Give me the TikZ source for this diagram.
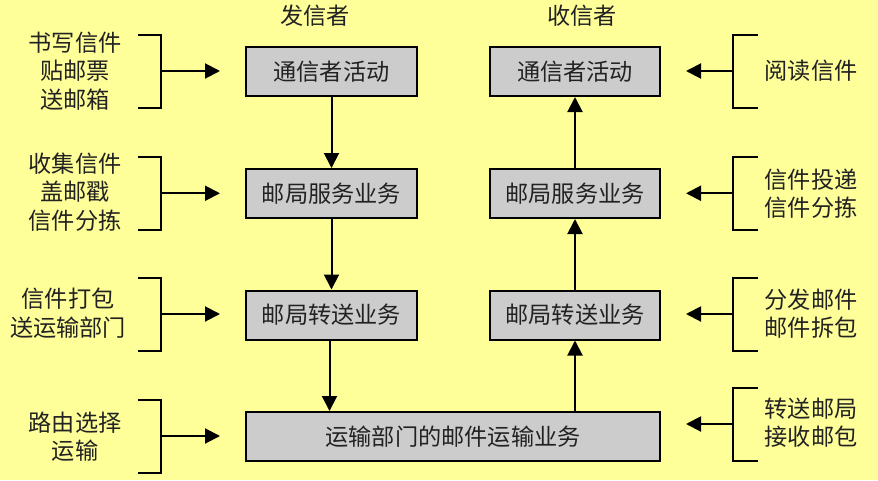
\documentclass[tikz,border=0pt]{standalone}
\usepackage{fontspec}
\setmainfont{Noto Sans CJK SC}
\usetikzlibrary{arrows.meta}
\definecolor{bgyellow}{HTML}{FFFF99}
\definecolor{boxgray}{HTML}{CCCCCC}
\definecolor{txt}{HTML}{222222}
\begin{document}
\begin{tikzpicture}[x=1pt,y=-1pt,
  every node/.style={font=\fontsize{23.2}{28.5}\selectfont, text=txt},
  procbox/.style={draw=black, fill=boxgray, line width=2pt, minimum height=49pt, inner sep=0pt},
  lbl/.style={align=center, inner sep=0pt},
  arr/.style={line width=2pt, -{Triangle[length=15pt,width=15pt]}},
  brk/.style={line width=2pt}]
\fill[bgyellow] (0,0) rectangle (878,480);
\useasboundingbox (0,0) rectangle (878,480);
% headers
\node (hs) at (315,16) {发信者};
\node (hr) at (582,16) {收信者};
% left boxes
\node[procbox, minimum width=171pt] (b1) at (331.5,71.5) {通信者活动};
\node[procbox, minimum width=171pt] (b2) at (331.5,193.5) {邮局服务业务};
\node[procbox, minimum width=171pt] (b3) at (331.5,315) {邮局转送业务};
\node[procbox, minimum width=414pt] (bt) at (453,436.5) {运输部门的邮件运输业务};
% right boxes
\node[procbox, minimum width=170pt] (r1) at (575,71.5) {通信者活动};
\node[procbox, minimum width=170pt] (r2) at (575,193.5) {邮局服务业务};
\node[procbox, minimum width=170pt] (r3) at (575,315) {邮局转送业务};
% vertical arrows
\draw[arr] (b1.south) -- (b2.north);
\draw[arr] (b2.south) -- (b3.north);
\draw[arr] ([xshift=-2pt]b3.south) -- ([xshift=-2pt]b3.south |- bt.north);
\draw[arr] (r3.south |- bt.north) -- (r3.south);
\draw[arr] (r3.north) -- (r2.south);
\draw[arr] (r2.north) -- (r1.south);
% left labels
\node[lbl] (l1) at (75,71) {书写信件\\贴邮票\\送邮箱};
\node[lbl] (l2) at (75,192) {收集信件\\盖邮戳\\信件分拣};
\node[lbl] (l3) at (68,313) {信件打包\\送运输部门};
\node[lbl] (l4) at (75,436.5) {路由选择\\运输};
% right labels
\node[lbl] (q1) at (811,71) {阅读信件};
\node[lbl] (q2) at (811,193.5) {信件投递\\信件分拣};
\node[lbl] (q3) at (811,313.5) {分发邮件\\邮件拆包};
\node[lbl] (q4) at (811,422.5) {转送邮局\\接收邮包};
% left brackets
\foreach \n/\t/\bo in {1/34.5/107.5, 2/156.5/230, 3/277.5/350.5, 4/399.5/472.5}{
  \draw[brk] (137.5,\t) -- (161,\t) -- (161,\bo) -- (137.5,\bo);
  \coordinate (lm\n) at (161,{(\t+\bo)/2});
}
% right brackets
\foreach \n/\t/\bo in {1/34.5/107.5, 2/156.5/230, 3/277.5/350.5, 4/387.5/460.5}{
  \draw[brk] (757.5,\t) -- (733,\t) -- (733,\bo) -- (757.5,\bo);
  \coordinate (rm\n) at (733,{(\t+\bo)/2});
}
% horizontal arrows
\draw[arr, shorten >=25pt] (lm1) -- (lm1 -| b1.west);
\draw[arr, shorten >=25pt] (lm2) -- (lm2 -| b2.west);
\draw[arr, shorten >=25pt] (lm3) -- (lm3 -| b3.west);
\draw[arr, shorten >=25pt] (lm4) -- (lm4 -| bt.west);
\draw[arr, shorten >=25pt] (rm1) -- (rm1 -| r1.east);
\draw[arr, shorten >=25pt] (rm2) -- (rm2 -| r2.east);
\draw[arr, shorten >=25pt] (rm3) -- (rm3 -| r3.east);
\draw[arr, shorten >=25pt] (rm4) -- (rm4 -| bt.east);
\end{tikzpicture}
\end{document}
